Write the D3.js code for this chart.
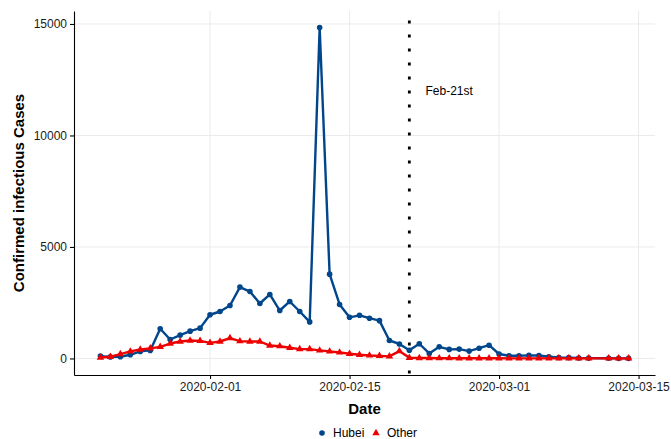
<!DOCTYPE html>
<html>
<head>
<meta charset="utf-8">
<title>Confirmed infectious cases</title>
<script src="https://cdn.jsdelivr.net/npm/d3@7"></script>
<style>
  body { margin: 0; background: #fff; }
  svg { font-family: "Liberation Sans", Arial, sans-serif; }
</style>
</head>
<body>
<svg id="chart" width="671" height="439"></svg>
<script>
// dates (Mar 11 has no record)
var dates = [
  "2020-01-21","2020-01-22","2020-01-23","2020-01-24","2020-01-25","2020-01-26","2020-01-27",
  "2020-01-28","2020-01-29","2020-01-30","2020-01-31","2020-02-01","2020-02-02","2020-02-03",
  "2020-02-04","2020-02-05","2020-02-06","2020-02-07","2020-02-08","2020-02-09","2020-02-10",
  "2020-02-11","2020-02-12","2020-02-13","2020-02-14","2020-02-15","2020-02-16","2020-02-17",
  "2020-02-18","2020-02-19","2020-02-20","2020-02-21","2020-02-22","2020-02-23","2020-02-24",
  "2020-02-25","2020-02-26","2020-02-27","2020-02-28","2020-02-29","2020-03-01","2020-03-02",
  "2020-03-03","2020-03-04","2020-03-05","2020-03-06","2020-03-07","2020-03-08","2020-03-09",
  "2020-03-10","2020-03-12","2020-03-13","2020-03-14"
];
var hubei = [
  105, 70, 75, 165, 315, 360, 1330, 850, 1045, 1225, 1360, 1960, 2105, 2375,
  3200, 3000, 2465, 2870, 2150, 2555, 2105, 1640, 14840, 3780, 2420, 1845, 1935, 1805,
  1695, 805, 650, 370, 660, 225, 520, 405, 420, 330, 460, 595, 200, 120,
  120, 140, 130, 75, 45, 38, 20, 15, 6, 5, 4
];
var other = [
  40, 75, 195, 315, 400, 450, 520, 670, 760, 805, 790, 700, 760, 910,
  775, 760, 760, 580, 550, 480, 420, 420, 360, 315, 270, 210, 165, 135,
  115, 95, 330, 30, 20, 18, 12, 12, 10, 10, 8, 8, 6, 5,
  5, 5, 5, 5, 4, 4, 4, 4, 3, 3, 3
];
var yTicks = [0, 5000, 10000, 15000];
var xTickLabels = ["2020-02-01", "2020-02-15", "2020-03-01", "2020-03-15"];
var marker = { date: "2020-02-21", labelDate: "2020-02-25", labelY: 12000, label: "Feb-21st" };

var parse = d3.timeParse("%Y-%m-%d");
var hubeiData = dates.map((d, i) => ({ date: parse(d), value: hubei[i] }));
var otherData = dates.map((d, i) => ({ date: parse(d), value: other[i] }));

var blue = "#00468B", red = "#ED0000";
var pL = 74, pR = 655, pT = 11, pB = 375;

var svg = d3.select("#chart");

var xExt = d3.extent(hubeiData, d => d.date);
var span = xExt[1] - xExt[0];
var x = d3.scaleTime()
  .domain([new Date(+xExt[0] - span * 0.05), new Date(+xExt[1] + span * 0.05)])
  .range([pL, pR]);

var yMax = d3.max(hubei.concat(other));
var y = d3.scaleLinear()
  .domain([-yMax * 0.05, yMax * 1.05])
  .range([pB, pT]);

var xTicks = xTickLabels.map(parse);

// grid
var grid = svg.append("g");
grid.selectAll("line.h").data(yTicks).enter().append("line")
  .attr("x1", pL).attr("x2", pR)
  .attr("y1", d => y(d)).attr("y2", d => y(d))
  .attr("stroke", "#ebebeb").attr("stroke-width", 1);
grid.selectAll("line.v").data(xTicks).enter().append("line")
  .attr("x1", d => x(d)).attr("x2", d => x(d))
  .attr("y1", pT).attr("y2", pB)
  .attr("stroke", "#ebebeb").attr("stroke-width", 1);

// axes
var xAxis = svg.append("g")
  .attr("transform", "translate(0," + pB + ")")
  .call(d3.axisBottom(x).tickValues(xTicks).tickFormat(d3.timeFormat("%Y-%m-%d")).tickSize(4).tickSizeOuter(0));
var yAxis = svg.append("g")
  .attr("transform", "translate(" + pL + ",0)")
  .call(d3.axisLeft(y).tickValues(yTicks).tickFormat(d3.format("d")).tickSize(4).tickSizeOuter(0));

[xAxis, yAxis].forEach(a => {
  a.select(".domain").attr("stroke", "#000").attr("stroke-width", 1.1);
  a.selectAll(".tick line").attr("stroke", "#000").attr("stroke-width", 1.1);
  a.selectAll(".tick text").attr("fill", "#1a1a1a").style("font-size", "12px")
    .style("font-family", "'Liberation Sans', Arial, sans-serif");
});
xAxis.selectAll(".tick text").attr("dy", "0.9em").attr("y", 5);
yAxis.selectAll(".tick text").attr("x", -7);

// vertical marker
var mx = x(parse(marker.date));
svg.append("line")
  .attr("x1", mx).attr("x2", mx)
  .attr("y1", pB - 1.5).attr("y2", pT)
  .attr("stroke", "#000").attr("stroke-width", 2.8)
  .attr("stroke-dasharray", "3,11");

svg.append("text")
  .attr("x", x(parse(marker.labelDate))).attr("y", y(marker.labelY))
  .attr("text-anchor", "middle").attr("dominant-baseline", "central")
  .style("font-size", "12px").text(marker.label);

// lines
var line = d3.line().x(d => x(d.date)).y(d => y(d.value));

svg.append("path").datum(hubeiData)
  .attr("d", line).attr("fill", "none")
  .attr("stroke", blue).attr("stroke-width", 2.4).attr("stroke-linejoin", "round");
svg.append("g").selectAll("circle").data(hubeiData).enter().append("circle")
  .attr("cx", d => x(d.date)).attr("cy", d => y(d.value)).attr("r", 2.8)
  .attr("fill", blue);

svg.append("path").datum(otherData)
  .attr("d", line).attr("fill", "none")
  .attr("stroke", red).attr("stroke-width", 2.4).attr("stroke-linejoin", "round");
var tri = d3.symbol().type(d3.symbolTriangle).size(24);
svg.append("g").selectAll("path").data(otherData).enter().append("path")
  .attr("d", tri)
  .attr("transform", d => "translate(" + x(d.date) + "," + y(d.value) + ")")
  .attr("fill", red);

// axis titles
svg.append("text")
  .attr("x", (pL + pR) / 2).attr("y", 408)
  .attr("text-anchor", "middle").attr("dominant-baseline", "central")
  .style("font-size", "15px").style("font-weight", "bold").text("Date");
svg.append("text")
  .attr("transform", "translate(18,193) rotate(-90)")
  .attr("text-anchor", "middle").attr("dominant-baseline", "central")
  .style("font-size", "15px").style("font-weight", "bold").text("Confirmed infectious Cases");

// legend
var lg = svg.append("g").attr("transform", "translate(0,433)");
lg.append("circle").attr("cx", 322).attr("cy", 0).attr("r", 2.8).attr("fill", blue);
lg.append("text").attr("x", 333).attr("y", 0).attr("dominant-baseline", "central")
  .style("font-size", "12px").text("Hubei");
lg.append("path").attr("d", tri).attr("transform", "translate(376,0)").attr("fill", red);
lg.append("text").attr("x", 387).attr("y", 0).attr("dominant-baseline", "central")
  .style("font-size", "12px").text("Other");
</script>
</body>
</html>
